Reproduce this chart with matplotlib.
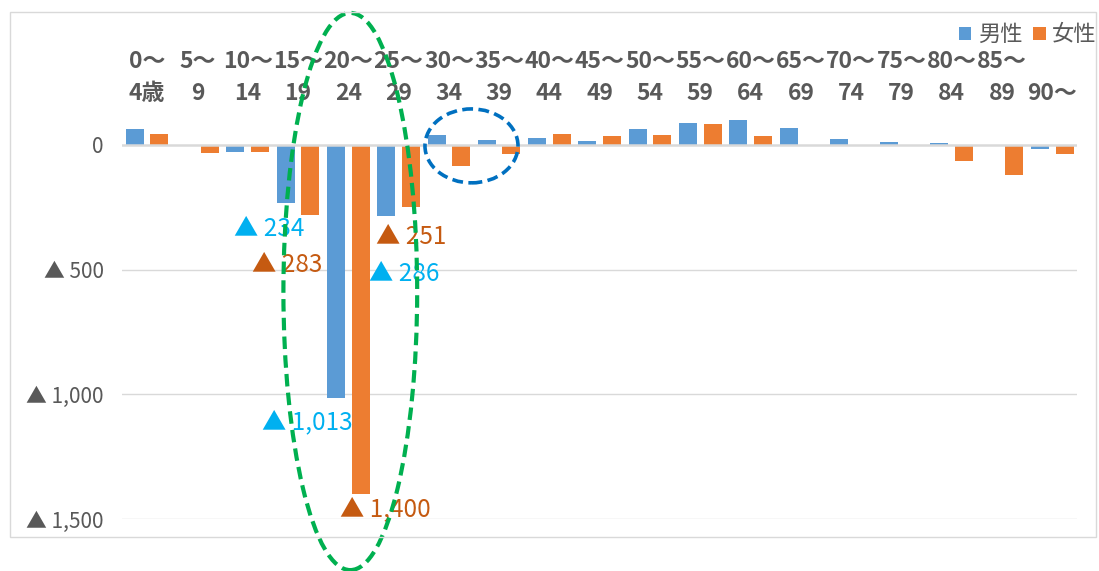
import matplotlib
matplotlib.use("Agg")
import matplotlib.pyplot as plt
import matplotlib.transforms as mtrans
from matplotlib.patches import Ellipse, Rectangle
import numpy as np

plt.rcParams['font.family'] = ['Noto Sans CJK JP', 'DejaVu Sans']

# 年齢階級（上段・下段）
age_top = ["0～", "5～", "10～", "15～", "20～", "25～", "30～", "35～", "40～", "45～",
           "50～", "55～", "60～", "65～", "70～", "75～", "80～", "85～", ""]
age_bottom = ["4歳", "9", "14", "19", "24", "29", "34", "39", "44", "49",
              "54", "59", "64", "69", "74", "79", "84", "89", "90～"]

# 転入超過数（マイナスは転出超過）
male = [61, -6, -29, -234, -1013, -286, 40, 19, 25, 16,
        63, 87, 100, 67, 21, 12, 7, -6, -17]
female = [44, -33, -29, -283, -1400, -251, -85, -37, 41, 33,
          37, 83, 33, 0, 0, 0, -67, -123, -39]

# 注記（値, 系列）
notes = [(-234, "男性"), (-283, "女性"), (-251, "女性"),
         (-286, "男性"), (-1013, "男性"), (-1400, "女性")]
note_x = [1.73, 2.09, 4.55, 4.42, 2.29, 3.84]
note_y = [-338, -482, -368, -518, -1113, -1460]

yticks = [0, -500, -1000, -1500]

BLUE = "#5b9bd5"
ORANGE = "#ed7d31"
GRAY = "#595959"
note_colors = {"男性": "#00b0f0", "女性": "#c55a11"}


def fmt(v):
    if v == 0:
        return "0"
    return "▲ {:,}".format(abs(v))


fig = plt.figure(figsize=(10.99, 5.71), dpi=100)
ax = fig.add_axes([0.1110, 0.0906, 0.8694, 0.7217])

x = np.arange(len(male))
w = 0.358
b1 = ax.bar(x - 0.245, male, w, color=BLUE, label="男性", zorder=2)
b2 = ax.bar(x + 0.245, female, w, color=ORANGE, label="女性", zorder=2)

ax.set_xlim(-0.5, 18.5)
ax.set_ylim(-1500, 150)

for s in ax.spines.values():
    s.set_visible(False)
ax.set_xticks([])
ax.set_yticks(yticks)
ax.set_yticklabels([fmt(v) for v in yticks])
ax.tick_params(axis="y", length=0, pad=13, labelsize=15, labelcolor=GRAY)
for v in yticks[1:]:
    ax.axhline(v, color="#d9d9d9", lw=1, zorder=1)
ax.axhline(0, color="#d9d9d9", lw=1.8, zorder=3)

# 年齢階級ラベル（上部）
tr = mtrans.blended_transform_factory(ax.transData, fig.transFigure)
for i in range(len(age_top)):
    ax.text(i, 1 - 61 / 571, age_top[i], transform=tr, ha="center", va="center",
            fontsize=16.5, color=GRAY, fontweight="bold")
    ax.text(i, 1 - 93 / 571, age_bottom[i], transform=tr, ha="center", va="center",
            fontsize=16.5, color=GRAY, fontweight="bold")

# 注記
for (v, sex), nx, ny in zip(notes, note_x, note_y):
    ax.text(nx, ny, fmt(v), ha="left", va="center", fontsize=17.5,
            color=note_colors[sex], zorder=5)

# 楕円
ax.add_patch(Ellipse((4.04, -588), 2.66, 2231, fill=False, ec="#00b050", lw=3,
                     ls=(0, (3, 1.5)), clip_on=False, zorder=6))
ax.add_patch(Ellipse((6.45, -5), 1.85, 296, fill=False, ec="#0070c0", lw=2.6,
                     ls=(0, (3, 1.5)), clip_on=False, zorder=6))

ax.legend(handles=[b1, b2], loc="upper right", bbox_to_anchor=(1.0, 1 - 21 / 571),
          bbox_transform=fig.transFigure, ncol=2, frameon=False, fontsize=16,
          handlelength=0.55, handleheight=0.55, handletextpad=0.3, columnspacing=0.5,
          labelcolor=GRAY, borderaxespad=0.0, borderpad=0.1)

# 枠線
fig.add_artist(Rectangle((10 / 1099, 1 - 537 / 571), 1086 / 1099, 525 / 571,
                         transform=fig.transFigure, fill=False, ec="#d9d9d9", lw=1))

fig.savefig("out.png", dpi=100)
